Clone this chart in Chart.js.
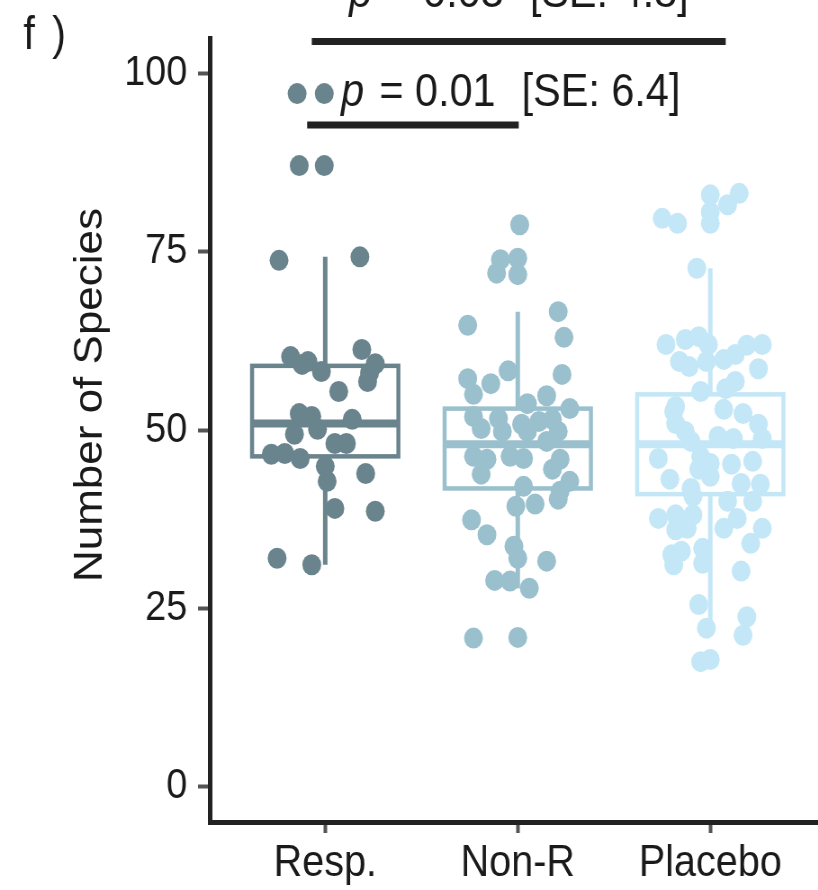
<!DOCTYPE html>
<html>
<head>
<meta charset="utf-8">
<script src="https://cdn.jsdelivr.net/npm/chart.js@4"></script>
<style>
  html, body { margin: 0; padding: 0; background: #fff; overflow: hidden; }
  #wrap { width: 818px; height: 890px; overflow: hidden; }
  /* the source figure is a little narrower than it is tall */
  #speciesChart { transform: scaleX(0.9); transform-origin: 0 0; }
</style>
</head>
<body>
<div id="wrap"><canvas id="speciesChart" width="909" height="890"></canvas></div>
<script>
const groups = ['Resp.', 'Non-R', 'Placebo'];
const groupColors = ['#6a848d', '#9ac0cd', '#c3e7f7'];
const yTicks = [0, 25, 50, 75, 100];

// number of species per sample, and the sideways jitter seen in the figure
const respValues = [97.2, 97.2, 87.1, 87.1, 73.8, 74.3, 60.3, 59.6, 59.2, 58.2, 61.3, 59.3, 58.0, 56.8,
  55.4, 52.3, 51.9, 51.5, 49.4, 50.1, 48.1, 48.1, 46.6, 46.7, 46.0, 44.9, 42.8, 43.9, 39.0, 38.6, 32.0, 31.1];
const respJitter = [-0.146, -0.005, -0.135, -0.005, -0.24, 0.18, -0.18, -0.09, -0.12, -0.02, 0.19, 0.26, 0.23, 0.22,
  0.07, -0.135, -0.07, 0.14, -0.16, -0.04, 0.05, 0.11, -0.28, -0.21, -0.13, 0.0, 0.01, 0.21, 0.05, 0.26, -0.25, -0.07];

const nonrValues = [78.8, 73.9, 74.1, 72.0, 71.8, 64.7, 66.6, 63.0, 57.8, 57.2, 55.0, 56.5, 58.3, 54.8, 53.7, 53.0,
  51.9, 50.2, 51.6, 49.8, 50.8, 49.8, 51.2, 51.5, 49.8, 48.4, 46.3, 45.9, 46.3, 46.0, 45.9, 43.8, 44.5, 42.8,
  41.4, 40.3, 42.1, 39.3, 39.6, 37.4, 35.3, 33.7, 32.0, 31.6, 28.9, 28.8, 27.8, 20.8, 20.9];
const nonrJitter = [0.01, -0.09, 0.0, -0.11, 0.0, -0.26, 0.21, 0.24, 0.23, -0.26, -0.23, -0.14, -0.05, 0.15, 0.05, 0.27,
  -0.23, -0.19, -0.10, -0.08, 0.02, 0.05, 0.11, 0.18, 0.21, 0.15, -0.23, -0.16, -0.04, 0.03, 0.22, -0.19, 0.18, 0.27,
  0.22, 0.21, 0.03, -0.01, 0.09, -0.24, -0.16, -0.02, 0.0, 0.15, -0.12, -0.04, 0.06, -0.23, 0.0];

const placeboValues = [79.7, 79.0, 83.0, 83.2, 81.6, 80.6, 79.0, 72.7, 62.0, 62.7, 63.1, 62.0, 59.6, 58.9, 59.6, 59.9,
  60.6, 61.9, 62.0, 58.6, 56.8, 55.8, 55.4, 53.3, 52.6, 50.9, 49.8, 48.4, 52.9, 52.3, 50.8, 48.8, 49.1, 48.8,
  46.0, 46.3, 45.3, 45.2, 45.6, 44.5, 43.1, 41.8, 40.7, 43.5, 42.5, 42.4, 40.0, 40.0, 37.6, 38.1, 38.1, 36.0,
  36.2, 36.2, 37.6, 36.2, 34.1, 32.5, 33.0, 33.4, 31.3, 31.1, 30.2, 25.5, 23.8, 22.2, 21.2, 17.5, 17.8];
const placeboJitter = [-0.25, -0.17, 0.0, 0.15, 0.09, 0.0, 0.0, -0.07, -0.23, -0.13, -0.06, -0.01, -0.16, -0.11, -0.02, 0.07,
  0.13, 0.19, 0.27, 0.25, 0.13, 0.08, -0.05, -0.18, -0.19, -0.18, -0.13, -0.10, 0.07, 0.17, 0.25, 0.27, 0.04, 0.12,
  -0.27, -0.05, 0.0, 0.11, 0.22, -0.06, -0.21, -0.10, -0.09, 0.0, 0.16, 0.26, 0.22, 0.09, -0.27, -0.18, -0.09, -0.18,
  -0.12, 0.07, 0.14, 0.27, 0.21, -0.20, -0.15, -0.04, -0.04, -0.19, 0.16, -0.06, 0.19, -0.02, 0.17, -0.05, 0.0];

// boxplot stats: lower whisker, Q1, median, Q3, upper whisker
const respBox = [31.1, 46.3, 50.9, 59.0, 74.3];
const nonrBox = [27.8, 41.8, 48.0, 53.0, 66.6];
const placeboBox = [21.2, 41.0, 48.0, 55.0, 72.7];
const boxHalfWidth = 0.38;

// significance brackets: from group, to group, height
const bracketStart = [0.906, 0.93];
const bracketEnd = [2.005, 3.08];
const bracketLevel = [92.8, 104.5];
const pTexts = ['= 0.01', '= 0.03'];
const seTexts = ['[SE: 6.4]', '[SE: 4.8]'];
const textLevel = [95.4, 109.4];
const textAnchors = [[1.083, 1.281, 2.02], [1.125, 1.323, 2.0625]];

const FONT = "'Liberation Sans', Arial, Helvetica, sans-serif";
const INK = '#1a1a1a';

function points(values, jitter, g) {
  return values.map((v, i) => ({ x: g + jitter[i], y: v }));
}

const boxPlugin = {
  id: 'boxes',
  beforeDatasetsDraw(chart) {
    const { ctx, scales: { x, y } } = chart;
    [respBox, nonrBox, placeboBox].forEach((b, i) => {
      const xc = x.getPixelForValue(i + 1);
      const x0 = x.getPixelForValue(i + 1 - boxHalfWidth);
      const x1 = x.getPixelForValue(i + 1 + boxHalfWidth);
      ctx.save();
      ctx.strokeStyle = groupColors[i];
      ctx.lineCap = 'butt';
      ctx.lineJoin = 'miter';
      ctx.lineWidth = 5;
      ctx.beginPath();
      ctx.moveTo(xc, y.getPixelForValue(b[3]));
      ctx.lineTo(xc, y.getPixelForValue(b[4]));
      ctx.moveTo(xc, y.getPixelForValue(b[1]));
      ctx.lineTo(xc, y.getPixelForValue(b[0]));
      ctx.stroke();
      ctx.lineWidth = 4.5;
      ctx.strokeRect(x0, y.getPixelForValue(b[3]), x1 - x0, y.getPixelForValue(b[1]) - y.getPixelForValue(b[3]));
      ctx.lineWidth = 8;
      ctx.beginPath();
      ctx.moveTo(x0, y.getPixelForValue(b[2]));
      ctx.lineTo(x1, y.getPixelForValue(b[2]));
      ctx.stroke();
      ctx.restore();
    });
  }
};

const notesPlugin = {
  id: 'notes',
  afterDraw(chart) {
    const { ctx, scales: { x, y } } = chart;
    ctx.save();
    ctx.fillStyle = INK;
    ctx.strokeStyle = '#222';
    ctx.lineWidth = 7;
    ctx.lineCap = 'butt';
    bracketLevel.forEach((lvl, i) => {
      ctx.beginPath();
      ctx.moveTo(x.getPixelForValue(bracketStart[i]), y.getPixelForValue(lvl));
      ctx.lineTo(x.getPixelForValue(bracketEnd[i]), y.getPixelForValue(lvl));
      ctx.stroke();
      const by = y.getPixelForValue(textLevel[i]);
      const a = textAnchors[i];
      ctx.textBaseline = 'alphabetic';
      ctx.textAlign = 'left';
      ctx.font = 'italic 46px ' + FONT;
      ctx.fillText('p', x.getPixelForValue(a[0]), by);
      ctx.font = '46px ' + FONT;
      ctx.fillText(pTexts[i], x.getPixelForValue(a[1]), by);
      ctx.fillText(seTexts[i], x.getPixelForValue(a[2]), by);
    });

    // panel letter
    ctx.font = '46px ' + FONT;
    ctx.fillText('f', 26, 49);
    ctx.fillText(')', 58, 49);

    // y axis title
    ctx.translate(113, 395);
    ctx.rotate(-Math.PI / 2);
    ctx.textAlign = 'center';
    ctx.font = '44px ' + FONT;
    ctx.fillText('Number of Species', 0, 0);
    ctx.restore();
  }
};

new Chart(document.getElementById('speciesChart'), {
  type: 'scatter',
  data: {
    datasets: [
      { label: groups[0], data: points(respValues, respJitter, 1), backgroundColor: groupColors[0] },
      { label: groups[1], data: points(nonrValues, nonrJitter, 2), backgroundColor: groupColors[1] },
      { label: groups[2], data: points(placeboValues, placeboJitter, 3), backgroundColor: groupColors[2] }
    ]
  },
  options: {
    responsive: false,
    animation: false,
    events: [],
    elements: { point: { radius: 10.5, borderWidth: 0, hoverRadius: 10.5 } },
    layout: { autoPadding: false, padding: { top: 38, left: 0, right: 0, bottom: 0 } },
    plugins: { legend: { display: false }, tooltip: { enabled: false } },
    scales: {
      x: {
        type: 'linear',
        min: 0.4,
        max: 3.56,
        afterFit(s) {
          s.height = 68;
          s.paddingLeft = 0;
          s.paddingRight = 0;
        },
        afterBuildTicks(s) { s.ticks = groups.map((g, i) => ({ value: i + 1 })); },
        ticks: {
          callback: v => groups[v - 1],
          font: { family: FONT, size: 44 },
          color: INK,
          padding: 4,
          maxRotation: 0,
          autoSkip: false
        },
        grid: { drawOnChartArea: false, tickLength: 11, tickWidth: 4, tickColor: '#555' },
        border: { color: '#222', width: 5 }
      },
      y: {
        min: -5,
        max: 105,
        afterFit(s) {
          s.width = 233;
          s.paddingTop = 0;
          s.paddingBottom = 0;
        },
        afterBuildTicks(s) { s.ticks = yTicks.map(v => ({ value: v })); },
        ticks: { font: { family: FONT, size: 42 }, color: INK, padding: 12 },
        grid: { drawOnChartArea: false, tickLength: 13, tickWidth: 4, tickColor: '#555' },
        border: { color: '#222', width: 5 }
      }
    }
  },
  plugins: [boxPlugin, notesPlugin]
});
</script>
</body>
</html>
